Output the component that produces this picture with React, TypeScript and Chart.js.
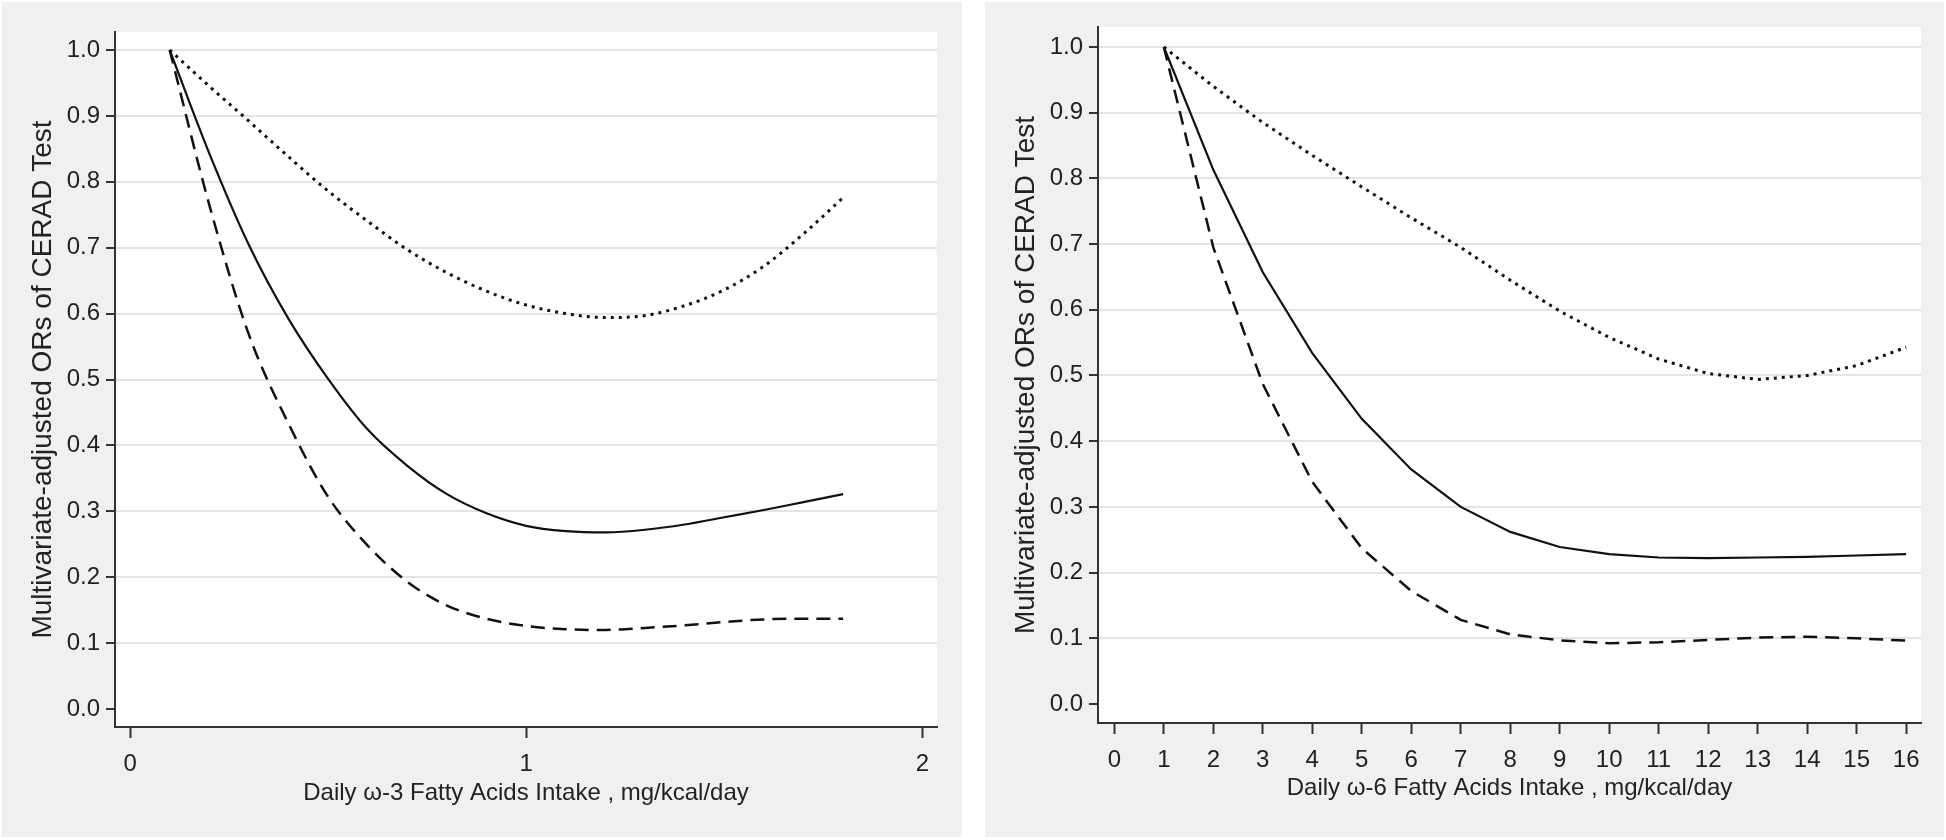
import React, { useEffect, useRef } from "react";
import { Chart, registerables } from "chart.js";

Chart.register(...registerables);

// ---------- data ----------
const yTickValues = [0, 0.1, 0.2, 0.3, 0.4, 0.5, 0.6, 0.7, 0.8, 0.9, 1.0];
const yAxisTitle = "Multivariate-adjusted ORs of CERAD Test";

const omega3Title = "Daily ω-3 Fatty Acids Intake , mg/kcal/day";
const omega3Ticks = [0, 1, 2];
const omega3X = [0.1, 0.2, 0.3, 0.4, 0.5, 0.6, 0.7, 0.8, 0.9, 1.0, 1.1, 1.2, 1.3, 1.4, 1.5, 1.6, 1.7, 1.8];
const omega3OR = [1.0, 0.843, 0.704, 0.592, 0.501, 0.424, 0.369, 0.326, 0.297, 0.278, 0.270, 0.268, 0.272, 0.280, 0.291, 0.302, 0.314, 0.326];
const omega3Lower = [1.0, 0.765, 0.568, 0.433, 0.322, 0.248, 0.193, 0.157, 0.137, 0.126, 0.121, 0.120, 0.123, 0.127, 0.132, 0.136, 0.137, 0.137];
const omega3Upper = [1.0, 0.945, 0.892, 0.838, 0.786, 0.740, 0.697, 0.662, 0.634, 0.613, 0.600, 0.594, 0.597, 0.612, 0.636, 0.672, 0.721, 0.776];

const omega6Title = "Daily ω-6 Fatty Acids Intake , mg/kcal/day";
const omega6Ticks = [0, 1, 2, 3, 4, 5, 6, 7, 8, 9, 10, 11, 12, 13, 14, 15, 16];
const omega6X = [1, 2, 3, 4, 5, 6, 7, 8, 9, 10, 11, 12, 13, 14, 15, 16];
const omega6OR = [1.0, 0.813, 0.657, 0.534, 0.434, 0.357, 0.300, 0.262, 0.239, 0.228, 0.223, 0.222, 0.223, 0.224, 0.226, 0.228];
const omega6Lower = [1.0, 0.695, 0.487, 0.338, 0.237, 0.172, 0.128, 0.106, 0.097, 0.0925, 0.094, 0.0975, 0.101, 0.1025, 0.100, 0.0965];
const omega6Upper = [1.0, 0.94, 0.885, 0.835, 0.787, 0.74, 0.695, 0.645, 0.598, 0.558, 0.525, 0.503, 0.494, 0.500, 0.515, 0.543];

// ---------- styling ----------
const FONT = "'Liberation Sans', Arial, Helvetica, sans-serif";
const TEXT = "#222222";
const AXIS = "#333333";
const GRID = "#e4e4e4";
const PANEL_BG = "#f0f0f0";
const LINE = "#111111";

const panelBg = {
  id: "panelBg",
  beforeDraw(chart: any) {
    const { ctx, chartArea: a, width, height } = chart;
    ctx.save();
    ctx.fillStyle = PANEL_BG;
    ctx.fillRect(0, 0, width, height);
    ctx.fillStyle = "#ffffff";
    ctx.fillRect(a.left, a.top, a.right - a.left, a.bottom - a.top);
    ctx.restore();
  },
};

type PanelProps = {
  left: number;
  width: number;
  height: number;
  xs: number[];
  or: number[];
  lower: number[];
  upper: number[];
  xTicks: number[];
  xMin: number;
  xMax: number;
  yMin: number;
  yMax: number;
  xTitle: string;
  padTop: number;
  padRight: number;
  yAxisWidth: number;
  xAxisHeight: number;
  xTickPad: number;
  xTitlePadBottom: number;
  smooth: boolean;
};

function Panel(p: PanelProps) {
  const ref = useRef<HTMLCanvasElement | null>(null);

  useEffect(() => {
    if (!ref.current) return;
    const pts = (ys: number[]) => p.xs.map((x, i) => ({ x, y: ys[i] }));
    const common = {
      pointRadius: 0,
      fill: false,
      borderColor: LINE,
      cubicInterpolationMode: p.smooth ? "monotone" : "default",
      tension: 0,
      borderCapStyle: "butt",
    };
    const chart = new Chart(ref.current, {
      type: "line",
      data: {
        datasets: [
          { ...common, label: "upper", data: pts(p.upper), borderWidth: 3, borderDash: [3, 5] },
          { ...common, label: "lower", data: pts(p.lower), borderWidth: 2.5, borderDash: [14, 8] },
          { ...common, label: "OR", data: pts(p.or), borderWidth: 2.2 },
        ],
      } as any,
      options: {
        animation: false,
        responsive: false,
        maintainAspectRatio: false,
        events: [],
        layout: { padding: { left: 0, top: p.padTop, right: p.padRight, bottom: 0 } },
        plugins: { legend: { display: false }, tooltip: { enabled: false } },
        scales: {
          x: {
            type: "linear",
            min: p.xMin,
            max: p.xMax,
            afterFit: (s: any) => {
              s.height = p.xAxisHeight;
            },
            afterBuildTicks: (s: any) => {
              s.ticks = p.xTicks.map((v) => ({ value: v }));
            },
            ticks: {
              includeBounds: false,
              autoSkip: false,
              maxRotation: 0,
              padding: p.xTickPad,
              color: TEXT,
              font: { family: FONT, size: 24 },
              callback: (v: any) => String(v),
            },
            grid: {
              drawOnChartArea: false,
              drawTicks: true,
              tickLength: 11,
              tickColor: AXIS,
              tickWidth: 2,
            },
            border: { display: true, color: AXIS, width: 2 },
            title: {
              display: true,
              text: p.xTitle,
              color: TEXT,
              font: { family: FONT, size: 24 },
              padding: { top: 0, bottom: p.xTitlePadBottom },
            },
          },
          y: {
            type: "linear",
            min: p.yMin,
            max: p.yMax,
            afterFit: (s: any) => {
              s.width = p.yAxisWidth;
            },
            afterBuildTicks: (s: any) => {
              s.ticks = yTickValues.map((v) => ({ value: v }));
            },
            ticks: {
              includeBounds: false,
              autoSkip: false,
              padding: 6,
              color: TEXT,
              font: { family: FONT, size: 24 },
              callback: (v: any) => Number(v).toFixed(1),
            },
            grid: {
              drawOnChartArea: true,
              drawTicks: true,
              tickLength: 9,
              tickColor: AXIS,
              tickWidth: 2,
              lineWidth: 2,
              color: (c: any) =>
                c.tick && Math.abs(c.tick.value) < 1e-9 ? "rgba(0,0,0,0)" : GRID,
            },
            border: { display: true, color: AXIS, width: 2 },
            title: {
              display: true,
              text: yAxisTitle,
              color: TEXT,
              font: { family: FONT, size: 28 },
              padding: { top: 24.7, bottom: 0 },
            },
          },
        },
      } as any,
      plugins: [panelBg],
    });
    return () => chart.destroy();
  }, []);

  return (
    <div
      style={{
        position: "absolute",
        left: p.left,
        top: 2,
        width: p.width,
        height: p.height,
        background: PANEL_BG,
      }}
    >
      <canvas ref={ref} width={p.width} height={p.height} style={{ display: "block", width: p.width, height: p.height }} />
    </div>
  );
}

export default function App() {
  return (
    <div
      style={{
        position: "absolute",
        left: 0,
        top: 0,
        width: 1946,
        height: 840,
        background: "#ffffff",
        overflow: "hidden",
      }}
    >
      <Panel
        left={2}
        width={960}
        height={835}
        xs={omega3X}
        or={omega3OR}
        lower={omega3Lower}
        upper={omega3Upper}
        xTicks={omega3Ticks}
        xMin={-0.038}
        xMax={2.037}
        yMin={-0.0273}
        yMax={1.0273}
        xTitle={omega3Title}
        padTop={30}
        padRight={25}
        yAxisWidth={113}
        xAxisHeight={110}
        xTickPad={12}
        xTitlePadBottom={29.6}
        smooth={true}
      />
      <Panel
        left={985}
        width={959}
        height={835}
        xs={omega6X}
        or={omega6OR}
        lower={omega6Lower}
        upper={omega6Upper}
        xTicks={omega6Ticks}
        xMin={-0.33}
        xMax={16.3}
        yMin={-0.0289}
        yMax={1.0304}
        xTitle={omega6Title}
        padTop={25}
        padRight={23}
        yAxisWidth={113}
        xAxisHeight={114}
        xTickPad={11.5}
        xTitlePadBottom={34.3}
        smooth={false}
      />
    </div>
  );
}
